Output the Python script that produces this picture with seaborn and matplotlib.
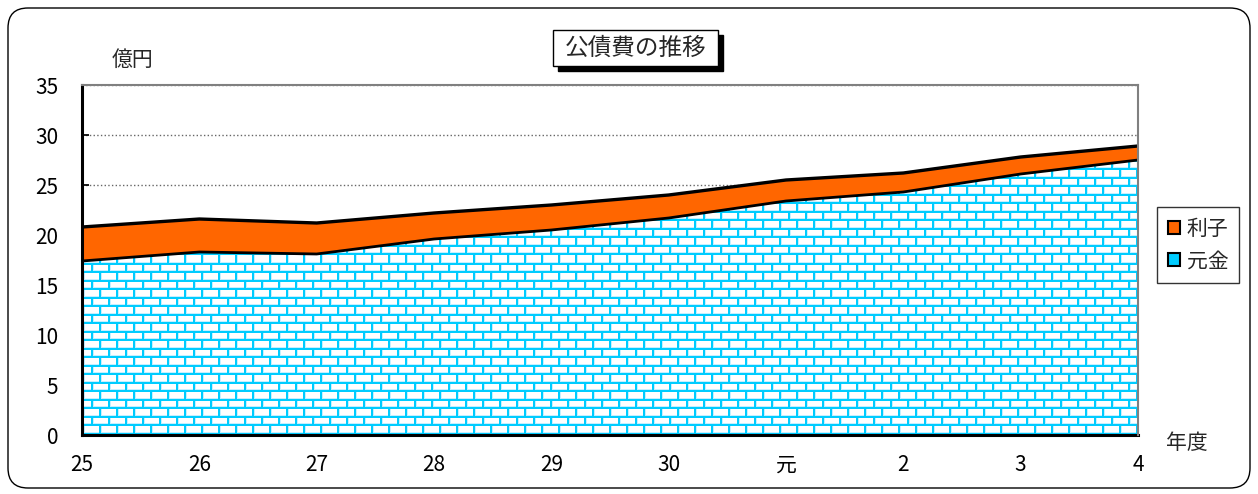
import numpy as np
import matplotlib
matplotlib.use('Agg')
import matplotlib.pyplot as plt
import seaborn as sns
from matplotlib.patches import Polygon, Patch, FancyBboxPatch, Rectangle
from matplotlib.transforms import IdentityTransform

# data (億円)
years = ['25', '26', '27', '28', '29', '30', '元', '2', '3', '4']
principal = [17.4, 18.3, 18.1, 19.6, 20.5, 21.7, 23.4, 24.3, 26.1, 27.5]   # 元金
interest = [3.4, 3.3, 3.1, 2.6, 2.5, 2.3, 2.1, 1.9, 1.7, 1.4]              # 利子

sns.set_theme(style='white')
plt.rcParams['font.family'] = ['Noto Sans CJK JP', 'DejaVu Sans']

x = np.arange(len(years))
total = np.array(principal) + np.array(interest)

fig = plt.figure(figsize=(12.58, 4.94), dpi=100)
W, H = 1258, 494
ax = fig.add_axes([82 / W, (H - 435) / H, (1138 - 82) / W, 350 / H])

# brick texture for the principal area
ih, iw = 350, 1056
rr = np.arange(ih)[:, None]
cc = np.arange(iw)[None, :]
rb = ih - 1 - rr
row = np.floor(rb / 8.5)
hm = (rb % 8.5) < 2
vm = ((cc + (row % 2) * 8.5) % 17) < 2
hl = ((rb % 8.5) >= 2) & ((rb % 8.5) < 3)
vl = (((cc + (row % 2) * 8.5) % 17) >= 2) & (((cc + (row % 2) * 8.5) % 17) < 3)
img = np.ones((ih, iw, 3))
img[hl | vl] = (0.78, 0.94, 1.0)
img[hm | vm] = (0.0, 0.8, 1.0)

clip = Polygon([(0, 0)] + list(zip(x, principal)) + [(x[-1], 0)], closed=True,
               transform=ax.transData, facecolor='white', edgecolor='none', zorder=1)
ax.add_patch(clip)
im = ax.imshow(img, extent=(0, x[-1], 0, 35), aspect='auto', origin='upper',
               interpolation='nearest', zorder=1.5)
im.set_clip_path(clip)

ax.fill_between(x, principal, total, color='#FF6600', lw=0, zorder=2)
sns.lineplot(x=x, y=total, color='black', lw=2.4, ax=ax, zorder=3)
sns.lineplot(x=x, y=principal, color='black', lw=2.0, ax=ax, zorder=3)

ax.set_xlim(0, x[-1])
ax.set_ylim(0, 35)
ax.set_yticks(range(0, 36, 5))
ax.set_xticks(x)
ax.set_xticklabels(years)
ax.set_axisbelow(True)
ax.yaxis.grid(True, linestyle=':', color='#666666', lw=1)
ax.xaxis.grid(False)
ax.tick_params(axis='y', direction='in', length=5, pad=17, labelsize=15, colors='black', left=True)
ax.tick_params(axis='x', direction='in', length=5, pad=14, labelsize=15, colors='black', bottom=True)
ax.set_xlabel('')
ax.set_ylabel('')
for s in ['left', 'bottom']:
    ax.spines[s].set_color('black')
    ax.spines[s].set_linewidth(2.2)
for s in ['top', 'right']:
    ax.spines[s].set_color('#808080')
    ax.spines[s].set_linewidth(1.5)
ax.spines['right'].set_zorder(4)

# title box with drop shadow (pixel coords, y from bottom)
bx0, bx1, by_top, by_bot = 553, 718, 30, 66
fig.add_artist(Rectangle((bx0 + 5, H - by_bot - 5), bx1 - bx0, by_bot - by_top,
                         transform=IdentityTransform(), fc='black', ec='black', lw=1))
fig.add_artist(Rectangle((bx0, H - by_bot), bx1 - bx0, by_bot - by_top,
                         transform=IdentityTransform(), fc='white', ec='black', lw=1))
fig.text((bx0 + bx1) / 2 / W, 1 - 48 / H, '公債費の推移', ha='center', va='center', fontsize=17)

fig.text(133 / W, 1 - 60 / H, '億円', ha='center', va='center', fontsize=15)
fig.text(1187 / W, 1 - 443 / H, '年度', ha='center', va='center', fontsize=15)

handles = [Patch(facecolor='#FF6600', edgecolor='black', lw=1.5, label='利子'),
           Patch(facecolor='#00CCFF', edgecolor='black', lw=1.5, label='元金')]
leg = fig.legend(handles=handles, loc='center', bbox_to_anchor=(1198 / W, 1 - 245 / H),
                 bbox_transform=fig.transFigure, fontsize=15, frameon=True, fancybox=False,
                 handlelength=0.6, handleheight=0.6, handletextpad=0.3, labelspacing=0.5,
                 borderpad=0.5)
leg.get_frame().set_edgecolor('black')
leg.get_frame().set_linewidth(1)

# rounded outer border
fig.add_artist(FancyBboxPatch((8, 6), 1242, 480, boxstyle='round,pad=0,rounding_size=20',
                              transform=IdentityTransform(), fill=False, ec='black', lw=1))

fig.savefig('out.png', dpi=100)
